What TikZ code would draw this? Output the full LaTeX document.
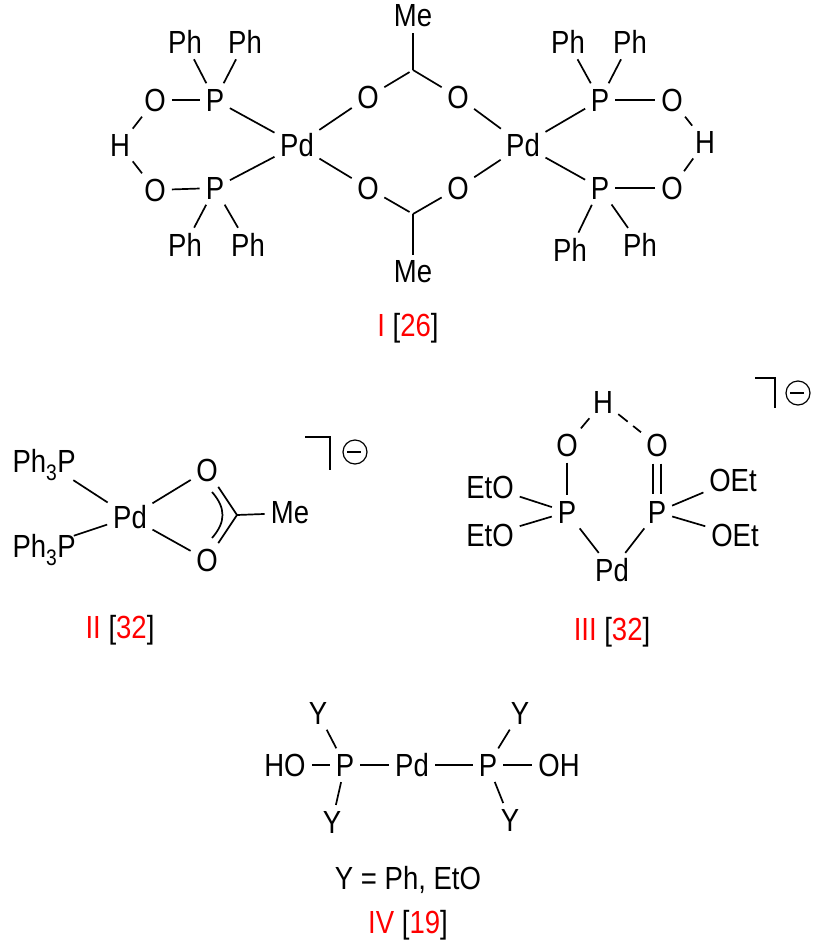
\documentclass[tikz,border=0pt]{standalone}
\usepackage{fontspec}
\setmainfont{Liberation Sans}[FakeStretch=0.86]
\begin{document}
\begin{tikzpicture}[x=1pt,y=-1pt,
  every node/.style={font=\fontsize{32}{34}\selectfont,inner sep=2pt},
  bond/.style={line width=1.7pt,shorten <=4pt,shorten >=4pt},
  hb/.style={line width=1.7pt,shorten <=4pt,shorten >=4pt,dash pattern=on 12pt off 7pt}]
\useasboundingbox (0,0) rectangle (813,943);
% ---------- I ----------
\node (PdL) at (297,145) {Pd};
\node (PdR) at (523,145) {Pd};
\node (P1) at (215,100) {P};
\node (O1) at (155,100) {O};
\node (H1) at (120,145) {H};
\node (O2) at (155,190) {O};
\node (P2) at (215,188) {P};
\node (a1) at (185,42) {Ph};
\node (a2) at (245,42) {Ph};
\node (a3) at (185,245) {Ph};
\node (a4) at (248,245) {Ph};
\node (Ob1) at (368,97) {O};
\node (Ob2) at (458,97) {O};
\coordinate (C1) at (413,70);
\node (Me1) at (413,16) {Me};
\node (Ob3) at (368,188) {O};
\node (Ob4) at (458,188) {O};
\coordinate (C2) at (413,214);
\node (Me2) at (413,272) {Me};
\node (P3) at (600,100) {P};
\node (O3) at (672,100) {O};
\node (H2) at (705,142) {H};
\node (O4) at (672,188) {O};
\node (P4) at (600,188) {P};
\node (b1) at (568,42) {Ph};
\node (b2) at (630,42) {Ph};
\node (b3) at (570,250) {Ph};
\node (b4) at (640,245) {Ph};
\draw[bond] (a1)--(P1); \draw[bond] (a2)--(P1); \draw[bond] (O1)--(P1); \draw[bond] (P1)--(PdL);
\draw[bond] (O1)--(H1); \draw[bond] (H1)--(O2); \draw[bond] (O2)--(P2); \draw[bond] (P2)--(PdL);
\draw[bond] (P2)--(a3); \draw[bond] (P2)--(a4);
\draw[bond] (PdL)--(Ob1); \draw[bond] (Ob1)--(C1); \draw[bond,shorten <=0pt] (C1)--(Ob2); \draw[bond] (Ob2)--(PdR); \draw[bond,shorten <=0pt] (C1)--(Me1);
\draw[bond] (PdL)--(Ob3); \draw[bond] (Ob3)--(C2); \draw[bond,shorten <=0pt] (C2)--(Ob4); \draw[bond] (Ob4)--(PdR); \draw[bond,shorten <=0pt] (C2)--(Me2);
\draw[bond] (b1)--(P3); \draw[bond] (b2)--(P3); \draw[bond] (P3)--(O3); \draw[bond] (P3)--(PdR);
\draw[bond] (O3)--(H2); \draw[bond] (H2)--(O4); \draw[bond] (O4)--(P4); \draw[bond] (P4)--(PdR);
\draw[bond] (P4)--(b3); \draw[bond] (P4)--(b4);
\node (L1) at (408,328) {\textcolor{red}{I} [\textcolor{red}{26}]};
% ---------- II ----------
\node[anchor=east] (PPa) at (78,465) {Ph\textsubscript{3}P};
\node[anchor=east] (PPb) at (78,550) {Ph\textsubscript{3}P};
\node (Pd2) at (130,517) {Pd};
\node (Oa) at (207,470) {O};
\node (Oc) at (207,560) {O};
\coordinate (C3) at (237,515);
\node (Me3) at (290,513) {Me};
\coordinate (pa) at (70,478);
\coordinate (pb) at (70,537);
\draw[bond] (pa)--(Pd2); \draw[bond] (pb)--(Pd2);
\draw[bond] (Pd2)--(Oa); \draw[bond,shorten >=0pt] (Oa)--(C3); \draw[bond,shorten <=0pt] (C3)--(Oc);
\draw[bond] (Pd2)--(Oc); \draw[bond,shorten <=0pt] (C3)--(Me3);
\draw[line width=1.7pt] (212,492) .. controls (226,508) and (226,522) .. (212,538);
\draw[line width=1.7pt] (305,437)--(330,437)--(330,470);
\node[draw,circle,line width=1.2pt,inner sep=0pt,minimum size=24pt] (m1) at (355,452) {};
\draw[line width=1.2pt] (m1.west)++(5,0) -- ++(14,0);
\node (L2) at (120,630) {\textcolor{red}{II} [\textcolor{red}{32}]};
% ---------- III ----------
\node (H3) at (603,402) {H};
\node (O5) at (567,445) {O};
\node (O6) at (657,445) {O};
\node (P5) at (567,512) {P};
\node (P6) at (657,512) {P};
\node (Pd3) at (612,570) {Pd};
\node (E1) at (490,487) {EtO};
\node (E2) at (490,535) {EtO};
\node (E3) at (733,480) {OEt};
\node (E4) at (735,535) {OEt};
\draw[bond] (H3)--(O5); \draw[bond] (O5)--(P5); \draw[bond] (P5)--(Pd3); \draw[bond] (Pd3)--(P6);
\draw[bond] (E1)--(P5); \draw[bond] (E2)--(P5); \draw[bond] (P6)--(E3); \draw[bond] (P6)--(E4);
\draw[hb] (H3)--(O6);
\draw[line width=1.7pt] ([xshift=-4,yshift=-5]O6.south)--([xshift=-4,yshift=5]P6.north) ([xshift=4,yshift=-5]O6.south)--([xshift=4,yshift=5]P6.north);
\draw[line width=1.7pt] (755,378)--(775,378)--(775,408);
\node[draw,circle,line width=1.2pt,inner sep=0pt,minimum size=24pt] (m2) at (798,393) {};
\draw[line width=1.2pt] (m2.west)++(5,0) -- ++(14,0);
\node (L3) at (612,632) {\textcolor{red}{III} [\textcolor{red}{32}]};
% ---------- IV ----------
\node (HO) at (285,765) {HO};
\node (P7) at (345,765) {P};
\node (Pd4) at (412,765) {Pd};
\node (P8) at (488,765) {P};
\node (OH) at (559,765) {OH};
\node (Y1) at (318,713) {Y};
\node (Y2) at (332,822) {Y};
\node (Y3) at (520,713) {Y};
\node (Y4) at (510,820) {Y};
\draw[bond] (HO)--(P7); \draw[bond] (P7)--(Pd4); \draw[bond] (Pd4)--(P8); \draw[bond] (P8)--(OH);
\draw[bond] (Y1)--(P7); \draw[bond] (P7)--(Y2); \draw[bond] (Y3)--(P8); \draw[bond] (P8)--(Y4);
\node (L4a) at (408,880) {Y = Ph, EtO};
\node (L4) at (408,925) {\textcolor{red}{IV} [\textcolor{red}{19}]};
\end{tikzpicture}
\end{document}
